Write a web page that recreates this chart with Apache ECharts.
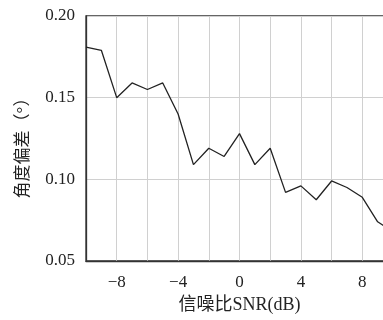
<!DOCTYPE html>
<html>
<head>
<meta charset="utf-8">
<script src="https://cdn.jsdelivr.net/npm/echarts@6/dist/echarts.min.js"></script>
<style>
html,body{margin:0;padding:0;background:#fff;}
#c{width:383px;height:320px;}
</style>
</head>
<body>
<div id="c"></div>
<script>
const snr = [-10,-9,-8,-7,-6,-5,-4,-3,-2,-1,0,1,2,3,4,5,6,7,8,9,10];
const angleError = [0.181,0.179,0.150,0.159,0.155,0.159,0.140,0.109,0.119,0.114,0.128,0.109,0.119,0.092,0.096,0.0875,0.099,0.095,0.089,0.074,0.068];
const xTickLabels = [-8,-4,0,4,8];
const yTickLabels = ['0.05','0.10','0.15','0.20'];

const serif = "'Liberation Serif', 'DejaVu Serif', serif";
const cjk = "'Liberation Serif', 'Noto Sans CJK SC', serif";
const chart = echarts.init(document.getElementById('c'), null, {renderer:'canvas'});
chart.setOption({
  animation:false,
  grid:{left:86, top:16, right:-10, bottom:59, show:true, borderColor:'#333', borderWidth:1.3, containLabel:false, outerBoundsMode:'none'},
  xAxis:{
    type:'value', min:-10, max:10, interval:2,
    name:'信噪比SNR(dB)', nameLocation:'middle', nameGap:32,
    nameTextStyle:{fontFamily:cjk, fontSize:18, color:'#222'},
    axisLine:{show:true, onZero:false, lineStyle:{color:'#333', width:1.3}},
    axisTick:{show:false},
    splitLine:{show:true, lineStyle:{color:'#d0d0d0', width:1}},
    axisLabel:{
      margin:13, fontFamily:serif, fontSize:17, color:'#222',
      formatter:function(v){ return xTickLabels.indexOf(v)>=0 ? String(v).replace('-', '\u2212') : ''; }
    }
  },
  yAxis:{
    type:'value', min:0.05, max:0.20, interval:0.05,
    name:'角度偏差（°）', nameLocation:'middle', nameGap:54, nameRotate:90,
    nameTextStyle:{fontFamily:cjk, fontSize:17, color:'#222', padding:[0,11,0,0]},
    axisLine:{show:true, onZero:false, lineStyle:{color:'#333', width:1.3}},
    axisTick:{show:false},
    splitLine:{show:true, lineStyle:{color:'#d0d0d0', width:1}},
    axisLabel:{
      margin:11, fontFamily:serif, fontSize:17, color:'#222',
      formatter:function(v){ const s=v.toFixed(2); return yTickLabels.indexOf(s)>=0 ? s : ''; }
    }
  },
  series:[{
    type:'line', data:snr.map((x,i)=>[x, angleError[i]]),
    showSymbol:false, lineStyle:{color:'#222', width:1.3}
  }]
});
</script>
</body>
</html>
